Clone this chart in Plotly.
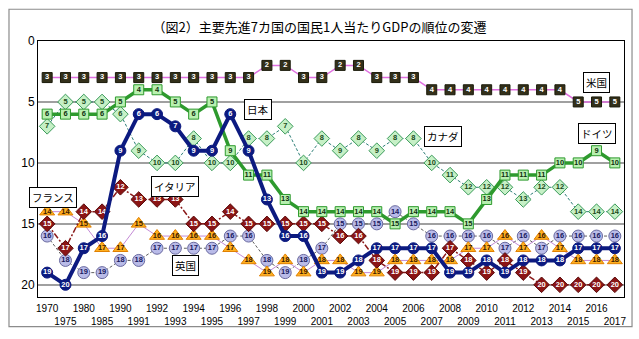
import plotly.graph_objects as go

# Years on the horizontal axis (five-year steps until 1985, then yearly)
years = ["1970", "1975", "1980", "1985"] + [str(y) for y in range(1990, 2018)]

# Rank of GDP per capita among OECD members for each G7 country
rank_us = [3, 3, 3, 3, 3, 3, 3, 3, 3, 3, 3, 3, 2, 2, 3, 3, 2, 2, 3, 3, 3,
           4, 4, 4, 4, 4, 4, 4, 4, 5, 5, 5]
rank_japan = [19, 20, 17, 16, 9, 6, 6, 7, 9, 9, 6, 9, 13, 16, 16, 19, 19, 18, 17, 17, 17,
              17, 19, 19, 18, 19, 18, 18, 18, 17, 17, 17]
rank_germany = [6, 6, 6, 6, 5, 4, 4, 5, 6, 5, 9, 11, 11, 13, 14, 14, 14, 14, 14, 15, 14,
                14, 14, 15, 13, 11, 11, 11, 10, 10, 9, 10]
rank_canada = [7, 5, 5, 5, 6, 9, 10, 10, 8, 10, 10, 8, 8, 7, 10, 8, 9, 8, 9, 8, 8,
               10, 11, 12, 12, 12, 13, 12, 12, 14, 14, 14]
rank_italy = [15, 17, 14, 14, 12, 13, 13, 13, 15, 15, 14, 15, 15, 15, 15, 15, 16, 16, 18, 19, 19,
              19, 17, 18, 19, 18, 19, 20, 20, 20, 20, 20]
rank_france = [14, 14, 15, 17, 17, 15, 16, 16, 16, 16, 17, 18, 19, 18, 19, 18, 18, 19, 19, 18, 18,
               18, 18, 17, 17, 16, 17, 16, 17, 18, 18, 18]
rank_uk = [16, 18, 19, 19, 18, 18, 17, 17, 17, 17, 16, 16, 18, 19, 18, 17, 15, 15, 15, 14, 15,
           16, 16, 16, 16, 17, 16, 17, 16, 16, 16, 16]

# Two-row tick labels: every other year drops to the second line
tick_text = [y if i % 2 == 0 else "<br>" + y for i, y in enumerate(years)]

NUM_FONT = "Liberation Sans, Arial, sans-serif"
JP_FONT = "Noto Sans CJK JP, sans-serif"

series = [
    # name, values, line, marker, text colour
    ("英国", rank_uk, dict(color="#606060", width=1, dash="3px,2px"),
     dict(symbol="circle", size=12, color="#b9bbe8", line=dict(color="#6a6aa0", width=1)), "#1a1a60"),
    ("フランス", rank_france, dict(color="#c48ad6", width=1),
     dict(symbol="triangle-up", size=13, color="#ffb020", line=dict(color="#e08000", width=1)), "#402000"),
    ("イタリア", rank_italy, dict(color="#8b1a1a", width=1.5, dash="6px,2px,2px,2px"),
     dict(symbol="diamond", size=12, color="#8b1515", line=dict(color="#5a0a0a", width=1)), "white"),
    ("カナダ", rank_canada, dict(color="#2f7f78", width=1, dash="3px,2px"),
     dict(symbol="diamond", size=12, color="#c6f0c6", line=dict(color="#3a9a5a", width=1)), "#1a4a1a"),
    ("ドイツ", rank_germany, dict(color="#2e9a2e", width=3.5),
     dict(symbol="square", size=10, color="#b8f0b0", line=dict(color="#2e9a2e", width=1)), "#103010"),
    ("米国", rank_us, dict(color="#e070e0", width=1.5),
     dict(symbol="square", size=10, color="#33301a", line=dict(color="#1a1a0a", width=1)), "white"),
    ("日本", rank_japan, dict(color="#0c1a80", width=4),
     dict(symbol="circle", size=11, color="#0c1a80", line=dict(color="#0c1a80", width=1)), "white"),
]

fig = go.Figure()
for name, vals, line, marker, tcol in series:
    fig.add_trace(go.Scatter(
        x=years, y=vals, name=name, mode="lines+markers+text",
        line=line, marker=marker,
        text=[str(v) for v in vals], textposition="middle center",
        textfont=dict(family=NUM_FONT, size=7.5, color=tcol, weight="bold"),
        cliponaxis=False, hoverinfo="x+y+name",
    ))

# Country name boxes placed next to their lines
labels = [
    ("日本", 11.5, 5.6),
    ("米国", 30.0, 3.4),
    ("カナダ", 21.6, 7.8),
    ("ドイツ", 30.05, 7.55),
    ("フランス", 0.3, 12.85),
    ("イタリア", 7.0, 11.9),
    ("英国", 7.55, 18.45),
]
for txt, xi, yv in labels:
    fig.add_annotation(
        x=xi, y=yv, xref="x", yref="y", text=txt, showarrow=False,
        font=dict(family=JP_FONT, size=10.5, color="black"),
        bgcolor="white", bordercolor="black", borderwidth=1, borderpad=2,
    )

# Outer chart frame
fig.add_shape(type="rect", xref="paper", yref="paper",
              x0=-0.0495, x1=1.0137, y0=-0.116, y1=1.124,
              line=dict(color="#8c8c8c", width=1.2), fillcolor="rgba(0,0,0,0)", layer="above")

fig.update_layout(
    width=639, height=339,
    margin=dict(l=38, r=15, t=41, b=40),
    paper_bgcolor="white", plot_bgcolor="white",
    showlegend=False,
    title=dict(text="（図2）主要先進7カ国の国民1人当たりGDPの順位の変遷",
               x=0.5, xanchor="center", y=1 - 27 / 339, yanchor="middle",
               font=dict(family=JP_FONT, size=13, color="black")),
    xaxis=dict(
        type="category", categoryorder="array", categoryarray=years,
        tickmode="array", tickvals=years, ticktext=tick_text, tickangle=0,
        range=[-0.5, len(years) - 0.5], ticklabelstandoff=2,
        showgrid=False, ticks="", showline=True, linecolor="black", linewidth=1, mirror=True,
        tickfont=dict(family=NUM_FONT, size=10, color="black"),
        zeroline=False,
    ),
    yaxis=dict(
        range=[21, 0], tickmode="array", tickvals=[0, 5, 10, 15, 20],
        showgrid=True, gridcolor="#a0a0a0", gridwidth=1.5,
        showline=True, linecolor="black", linewidth=1, mirror=True,
        ticks="", zeroline=False,
        tickfont=dict(family=NUM_FONT, size=12, color="black"),
    ),
)

fig.write_html("out.html")
